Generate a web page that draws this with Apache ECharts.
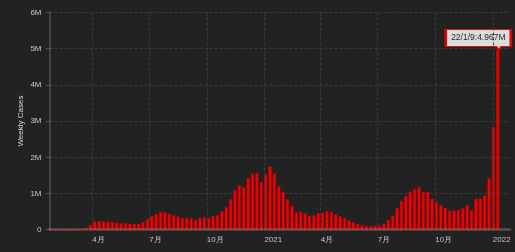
<!DOCTYPE html>
<html>
<head>
<meta charset="utf-8">
<script src="https://cdn.jsdelivr.net/npm/echarts@6/dist/echarts.min.js"></script>
<style>
html,body{margin:0;padding:0;background:#222222;}
#c{width:515px;height:252px;}
</style>
</head>
<body>
<div id="c"></div>
<script>
// Weekly US cases, in millions, one value per week (week ending on the date)
const firstWeek = [2020, 0, 26];
const weeklyCasesM = [
  0.00001, 0.00001, 0.00001, 0.00001, 0.00002, 0.00005, 0.0005, 0.003,
  0.05, 0.13, 0.23, 0.24, 0.23, 0.22, 0.21, 0.19, 0.185, 0.185,
  0.165, 0.165, 0.165, 0.21, 0.29, 0.376, 0.43, 0.486, 0.486, 0.44,
  0.40, 0.367, 0.32, 0.32, 0.32, 0.266, 0.32, 0.34, 0.32, 0.376,
  0.40, 0.51, 0.62, 0.84, 1.09, 1.23, 1.17, 1.43, 1.55, 1.56,
  1.32, 1.53, 1.75, 1.55, 1.20, 1.05, 0.84, 0.66, 0.486, 0.50,
  0.45, 0.39, 0.40, 0.46, 0.46, 0.51, 0.495, 0.43, 0.376, 0.32,
  0.266, 0.21, 0.165, 0.128, 0.11, 0.10, 0.11, 0.11, 0.165, 0.266,
  0.385, 0.596, 0.80, 0.936, 1.055, 1.12, 1.174, 1.046, 1.055, 0.86,
  0.77, 0.68, 0.605, 0.523, 0.54, 0.54, 0.596, 0.68, 0.54, 0.86,
  0.86, 0.954, 1.42, 2.84, 4.967
];
const yMax = 6;
const yStep = 1;
const axisMin = '2020-01-26';
const axisMax = '2022-01-26';
const yAxisName = 'Weekly Cases';

function pad(n){ return (n < 10 ? '0' : '') + n; }
const weekDates = weeklyCasesM.map((v, i) => {
  const d = new Date(firstWeek[0], firstWeek[1], firstWeek[2] + 7 * i);
  return d.getFullYear() + '-' + pad(d.getMonth() + 1) + '-' + pad(d.getDate());
});
const seriesData = weekDates.map((d, i) => [d, weeklyCasesM[i]]);
const lastIdx = weeklyCasesM.length - 1;
const lastDate = new Date(firstWeek[0], firstWeek[1], firstWeek[2] + 7 * lastIdx);
const calloutText = (lastDate.getFullYear() % 100) + '/' + (lastDate.getMonth() + 1) + '/' + lastDate.getDate()
  + ':' + weeklyCasesM[lastIdx] + 'M';

const FONT = 'Liberation Sans, Arial, sans-serif';
const chart = echarts.init(document.getElementById('c'), null, {renderer: 'canvas'});
chart.setOption({
  backgroundColor: '#222222',
  animation: false,
  grid: {left: 49.5, right: 5, top: 12.5, bottom: 22.3, outerBoundsMode: 'none', containLabel: false},
  xAxis: {
    type: 'time',
    min: axisMin,
    max: axisMax,
    splitNumber: 7,
    minInterval: 85 * 864e5,
    maxInterval: 95 * 864e5,
    z: 10,
    axisLine: {show: true, onZero: false, lineStyle: {color: 'rgba(255,255,255,0.2)', width: 2.5}},
    axisTick: {show: false},
    axisLabel: {
      color: '#c8c8c8', fontSize: 8, fontFamily: FONT, margin: 6, align: 'left',
      showMinLabel: false, showMaxLabel: false,
      formatter: {year: '{yyyy}', month: '{M}月', day: '', hour: '', minute: '', second: '', millisecond: ''}
    },
    splitLine: {show: true, showMinLine: false, showMaxLine: false, lineStyle: {color: '#3b3b3b', width: 1, type: [3, 2]}}
  },
  yAxis: {
    type: 'value',
    min: 0, max: yMax, interval: yStep,
    name: yAxisName,
    nameLocation: 'middle',
    nameGap: 25,
    nameMoveOverlap: false,
    nameTextStyle: {color: '#dcdcdc', fontSize: 8, fontFamily: FONT},
    axisLine: {show: true, lineStyle: {color: 'rgba(255,255,255,0.2)', width: 1.5}},
    axisTick: {show: true, length: 4, lineStyle: {color: 'rgba(255,255,255,0.2)'}},
    axisLabel: {
      color: '#c8c8c8', fontSize: 8, fontFamily: FONT, margin: 8,
      formatter: v => v === 0 ? '0' : v + 'M'
    },
    splitLine: {show: true, lineStyle: {color: '#3b3b3b', width: 1, type: [3, 2]}}
  },
  series: [{
    type: 'bar',
    data: seriesData,
    barWidth: 3.1,
    itemStyle: {color: '#f50000', borderColor: '#c40000', borderWidth: 0.6},
    markPoint: {
      symbol: 'path://M0,0L65,0L65,17L56,17L53,20.5L50,17L0,17Z',
      symbolSize: [65, 20.5],
      symbolOffset: [-19.5, -10.25],
      itemStyle: {color: '#dcdcdc', borderColor: '#e00000', borderWidth: 1.5},
      label: {
        show: true, position: 'inside', offset: [0, -1.8],
        color: '#2a2a2a', fontSize: 8.5, fontFamily: FONT,
        formatter: () => calloutText
      },
      data: [{coord: [weekDates[lastIdx], weeklyCasesM[lastIdx]], value: weeklyCasesM[lastIdx]}]
    }
  }]
});
</script>
</body>
</html>
